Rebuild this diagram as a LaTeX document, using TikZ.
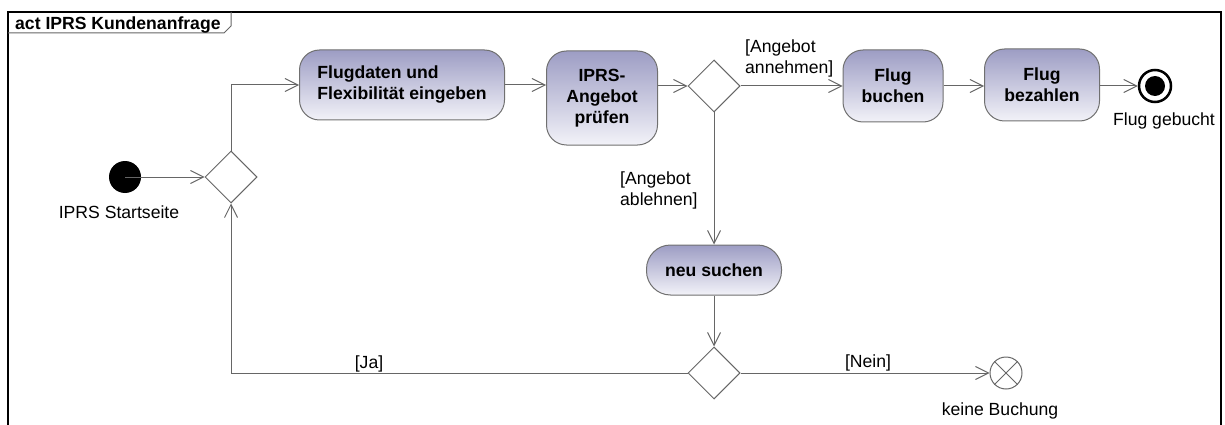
\documentclass[tikz,border=0pt]{standalone}
\usepackage{fontspec}
\setmainfont{Liberation Sans}
\usetikzlibrary{arrows.meta,shapes.geometric,calc}
\definecolor{edgegray}{HTML}{666666}
\definecolor{boxgray}{HTML}{707070}
\definecolor{acttop}{HTML}{9D9DC4}
\definecolor{actbot}{HTML}{F2F2F8}
\begin{document}
\begin{tikzpicture}[x=1pt,y=-1pt,
  flow/.style={draw=edgegray, line width=1pt, -{Straight Barb[length=13pt,width=13pt,line width=1pt]}},
  action/.style={draw=boxgray, line width=1pt, rounded corners=20pt,
    top color=acttop, bottom color=actbot,
    font=\fontsize{17.6}{21}\selectfont\bfseries, align=center, inner sep=0pt},
  decision/.style={diamond, draw=edgegray, fill=white, line width=1pt,
    minimum width=52pt, minimum height=52pt, inner sep=0pt},
  guard/.style={font=\fontsize{17.6}{21}\selectfont, inner sep=0pt, align=left},
]
\useasboundingbox (0,0) rectangle (1225,425);
\clip (0,0) rectangle (1225,425);

% activity frame and its name tab
\draw[line width=2.2pt] (8,440) -- (8,12) -- (1221,12) -- (1221,440);
\draw[edgegray, line width=1pt] (8,33) -- (224,33) -- (231,26) -- (231,12);
\node[font=\fontsize{17.6}{21}\selectfont\bfseries, inner sep=0pt, anchor=base west]
  (title) at (15,30) {act IPRS Kundenanfrage};

% initial and final nodes
\node[circle, fill=black, minimum size=32pt, inner sep=0pt] (start) at (125,177) {};
\node[guard, anchor=base] (startlbl) at (119,218) {IPRS Startseite};

\node[circle, draw=black, line width=2.5pt, fill=white, minimum size=32pt, inner sep=0pt]
  (final) at (1155,86) {};
\node[circle, fill=black, minimum size=20pt, inner sep=0pt] (finalcore) at (final) {};
\node[guard, anchor=base] (finallbl) at (1164,125) {Flug gebucht};

\node[circle, draw=edgegray, line width=1pt, fill=white, minimum size=32pt, inner sep=0pt]
  (abort) at (1006,373) {};
\draw[edgegray, line width=1pt] (abort.north west) -- (abort.south east)
  (abort.north east) -- (abort.south west);
\node[guard, anchor=base] (abortlbl) at (1000,415) {keine Buchung};

% decisions
\node[decision] (d1) at (231,177) {};
\node[decision] (d2) at (714,86) {};
\node[decision] (d3) at (714,373) {};

% actions
\node[action, minimum width=205pt, minimum height=70pt] (a1) at (402,85)
  {\begin{tabular}{@{}l@{}}Flugdaten und\\Flexibilität eingeben\end{tabular}};
\node[action, minimum width=111pt, minimum height=94pt] (a2) at (602,98)
  {IPRS-\\Angebot\\prüfen};
\node[action, minimum width=100pt, minimum height=72pt] (a3) at (893,86)
  {Flug\\buchen};
\node[action, minimum width=115pt, minimum height=72pt] (a4) at (1042,85)
  {Flug\\bezahlen};
\node[action, rounded corners=24pt, minimum width=135pt, minimum height=50pt] (a5) at (714,270)
  {neu suchen};

% control flows
\draw[flow] (start.center) -- (d1.west);
\draw[flow] (d1.north) |- (a1.west);
\draw[flow] (a1.east) -- (a1.east -| a2.west);
\draw[flow] (a2.east |- d2.west) -- (d2.west);
\draw[flow] (d2.east) -- (d2.east -| a3.west);
\draw[flow] (a3.east) -- (a3.east -| a4.west);
\draw[flow] (a4.east |- final.west) -- (final.west);
\draw[flow] (d2.south) -- (a5.north);
\draw[flow] (a5.south) -- (d3.north);
\draw[flow] (d3.west) -| (d1.south);
\draw[flow] (d3.east) -- (abort.west);

% guards
\node[guard, anchor=north west] (gaccept) at (745,40) {[Angebot\\annehmen]};
\node[guard, anchor=north west] (greject) at (620,172) {[Angebot\\ablehnen]};
\node[guard, anchor=base] (gyes) at (369,368) {[Ja]};
\node[guard, anchor=base] (gno) at (868,367) {[Nein]};
\end{tikzpicture}
\end{document}
